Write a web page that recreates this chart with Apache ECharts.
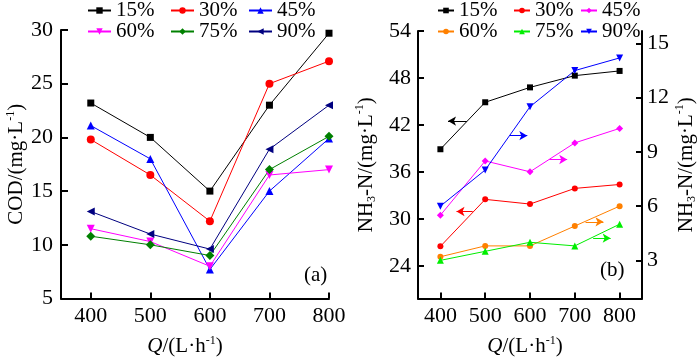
<!DOCTYPE html>
<html>
<head>
<meta charset="utf-8">
<script src="https://cdn.jsdelivr.net/npm/echarts@6/dist/echarts.min.js"></script>
<style>html,body{margin:0;padding:0;background:#fff}#c{width:700px;height:362px}</style>
</head>
<body>
<div id="c"></div>
<script>
// ---- data ----
const flows = [400, 500, 600, 700, 800];
const xTicks = [400, 500, 600, 700, 800];
const codTicks = [5, 10, 15, 20, 25, 30];
const nhLeftTicks = [24, 30, 36, 42, 48, 54];
const nhRightTicks = [3, 6, 9, 12, 15];
const seriesNames = ['15%', '30%', '45%', '60%', '75%', '90%'];

const cod15 = [23.2, 20.0, 15.0, 23.0, 29.7];
const cod30 = [19.8, 16.5, 12.2, 25.0, 27.1];
const cod45 = [21.1, 18.0, 7.7, 15.0, 19.9];
const cod60 = [11.5, 10.3, 8.0, 16.5, 17.0];
const cod75 = [10.8, 10.0, 9.0, 17.0, 20.1];
const cod90 = [13.1, 11.0, 9.6, 18.9, 23.0];

const nh15 = [38.9, 44.9, 46.8, 48.3, 48.9]; // left axis
const nh30 = [26.5, 32.5, 31.9, 33.9, 34.4]; // left axis
const nh45 = [5.5, 8.5, 7.9, 9.5, 10.3];     // right axis
const nh60 = [3.2, 3.8, 3.8, 4.9, 6.0];      // right axis
const nh75 = [3.0, 3.5, 4.0, 3.8, 5.0];      // right axis
const nh90 = [6.0, 8.0, 11.5, 13.5, 14.2];   // right axis

// axis-indicator arrows (tail, head) in data coordinates
const arrowBlack = [[459, 42.5], [417, 42.5]];
const arrowRed = [[472, 30.95], [436, 30.95]];
const arrowMagenta = [[643, 8.58], [683, 8.58]];
const arrowBlue = [[555, 9.9], [594, 9.9]];
const arrowOrange = [[724, 5.13], [764, 5.13]];
const arrowGreen = [[741, 4.23], [780, 4.23]];

// ---- styling ----
const FONT = '"Liberation Serif", "Times New Roman", serif';
const triDown = 'path://M0,0 L10,0 L5,9 Z';
const triLeft = 'path://M0,5 L9,0 L9,10 Z';

function pairs(vals) { return flows.map((x, i) => [x, vals[i]]); }

function mkSeries(name, vals, color, symbol, size, xi, yi, arrow) {
  const s = {
    name, type: 'line', xAxisIndex: xi, yAxisIndex: yi,
    data: pairs(vals), symbol, symbolSize: size,
    lineStyle: { color, width: 1 }, itemStyle: { color },
    emphasis: { disabled: true }
  };
  if (arrow) {
    s.markLine = {
      silent: true, symbol: ['none', 'arrow'], symbolSize: [7, 8],
      label: { show: false },
      lineStyle: { color, width: 1, type: 'solid' },
      data: [[{ coord: arrow[0] }, { coord: arrow[1] }]]
    };
  }
  return s;
}

const axisLineStyle = { lineStyle: { color: '#000', width: 2 } };
const labelStyle = { fontFamily: FONT, fontSize: 22, color: '#000' };
const nameRich = {
  t: { fontFamily: FONT, fontSize: 21, color: '#000', lineHeight: 24 },
  i: { fontFamily: FONT, fontSize: 21, color: '#000', fontStyle: 'italic', lineHeight: 24 },
  sup: { fontFamily: FONT, fontSize: 12, color: '#000', verticalAlign: 'top', lineHeight: 24, padding: [0, 0, 8, 0] },
  sub: { fontFamily: FONT, fontSize: 12, color: '#000', verticalAlign: 'bottom', lineHeight: 24, padding: [8, 0, 0, 0] }
};
const qName = '{i|Q}{t|/(L·h}{sup|-1}{t|)}';
const nhName = '{t|NH}{sub|3}{t|-N/(mg·L}{sup|-1}{t|)}';
const codName = '{t|COD/(mg·L}{sup|-1}{t|)}';

function xAxisCfg(gi, min, max, padRight) {
  return {
    type: 'value', gridIndex: gi, min, max,
    axisLine: axisLineStyle,
    axisTick: { show: true, inside: true, length: 6, customValues: xTicks, lineStyle: { color: '#000', width: 2 } },
    axisLabel: { customValues: xTicks, margin: 7, ...labelStyle },
    splitLine: { show: false },
    name: qName, nameLocation: 'middle', nameGap: 36,
    nameTextStyle: { rich: nameRich, padding: [0, padRight, 0, 0] }
  };
}

function legendCol(names, left, iw, ih) {
  return {
    orient: 'vertical', left, top: 0, padding: 0, itemGap: 0,
    itemWidth: iw, itemHeight: ih, data: names,
    textStyle: { fontFamily: FONT, fontSize: 21, color: '#000', lineHeight: 21 },
    selectedMode: false
  };
}

const option = {
  animation: false,
  backgroundColor: '#fff',
  textStyle: { fontFamily: FONT },
  grid: [
    { left: 61, top: 30, width: 268, height: 272 },
    { left: 418, top: 31, width: 224, height: 271 }
  ],
  legend: [
    legendCol(['15%', '60%'].map(n => 'a' + n), 87, 23, 8),
    legendCol(['30%', '75%'].map(n => 'a' + n), 170, 23, 8),
    legendCol(['45%', '90%'].map(n => 'a' + n), 248, 23, 8),
    legendCol(['15%', '60%'].map(n => 'b' + n), 437, 16, 7),
    legendCol(['30%', '75%'].map(n => 'b' + n), 513, 16, 7),
    legendCol(['45%', '90%'].map(n => 'b' + n), 580, 16, 7)
  ].map(l => ({ ...l, formatter: n => n.slice(1) })),
  xAxis: [
    xAxisCfg(0, 350, 800, 20),
    xAxisCfg(1, 350, 850, 10)
  ],
  yAxis: [
    {
      type: 'value', gridIndex: 0, min: 5, max: 30, interval: 5,
      axisLine: { show: true, ...axisLineStyle },
      axisTick: { show: true, inside: true, length: 7, lineStyle: { color: '#000', width: 2 } },
      axisLabel: { margin: 8, ...labelStyle },
      splitLine: { show: false },
      name: codName, nameLocation: 'middle', nameRotate: 90, nameGap: 32,
      nameTextStyle: { rich: nameRich }
    },
    {
      type: 'value', gridIndex: 1, min: 19.84, max: 54,
      axisLine: { show: true, ...axisLineStyle },
      axisTick: { show: true, inside: true, length: 6, customValues: nhLeftTicks, lineStyle: { color: '#000', width: 2 } },
      axisLabel: { margin: 7, customValues: nhLeftTicks, ...labelStyle },
      splitLine: { show: false },
      name: nhName, nameLocation: 'middle', nameRotate: 90, nameGap: 40,
      nameTextStyle: { rich: nameRich }
    },
    {
      type: 'value', gridIndex: 1, position: 'right', min: 0.89, max: 15.69,
      axisLine: { show: true, ...axisLineStyle },
      axisTick: { show: true, inside: true, length: 6, customValues: nhRightTicks, lineStyle: { color: '#000', width: 2 } },
      axisLabel: { margin: 5, customValues: nhRightTicks, ...labelStyle },
      splitLine: { show: false },
      name: nhName, nameLocation: 'middle', nameRotate: 90, nameGap: 32,
      nameTextStyle: { rich: nameRich }
    }
  ],
  series: [
    mkSeries('a15%', cod15, '#000000', 'rect', 7, 0, 0),
    mkSeries('a30%', cod30, '#ff0000', 'circle', 8, 0, 0),
    mkSeries('a45%', cod45, '#0000ff', 'triangle', 8, 0, 0),
    mkSeries('a60%', cod60, '#ff00ff', triDown, 8, 0, 0),
    mkSeries('a75%', cod75, '#008000', 'diamond', 9, 0, 0),
    mkSeries('a90%', cod90, '#000080', triLeft, 8, 0, 0),
    mkSeries('b15%', nh15, '#000000', 'rect', 6, 1, 1, arrowBlack),
    mkSeries('b30%', nh30, '#ff0000', 'circle', 6, 1, 1, arrowRed),
    mkSeries('b45%', nh45, '#ff00ff', 'diamond', 7, 1, 2, arrowMagenta),
    mkSeries('b60%', nh60, '#ff8000', 'circle', 6, 1, 2, arrowOrange),
    mkSeries('b75%', nh75, '#00ee00', 'triangle', 7, 1, 2, arrowGreen),
    mkSeries('b90%', nh90, '#0000ff', triDown, 7, 1, 2, arrowBlue)
  ],
  graphic: [
    { type: 'text', left: 304, top: 265, style: { text: '(a)', font: '21px "Liberation Serif"', fill: '#000' } },
    { type: 'text', left: 600, top: 260, style: { text: '(b)', font: '21px "Liberation Serif"', fill: '#000' } }
  ]
};

const chart = echarts.init(document.getElementById('c'), null, { renderer: 'canvas' });
chart.setOption(option);
</script>
</body>
</html>
